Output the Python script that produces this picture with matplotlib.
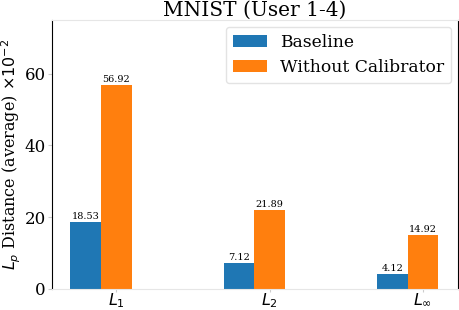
import numpy as np
import matplotlib
matplotlib.use("Agg")
import matplotlib.pyplot as plt

plt.rcParams['font.family'] = 'DejaVu Serif'
plt.rcParams['mathtext.fontset'] = 'dejavusans'

norms = [r'$L_1$', r'$L_2$', r'$L_\infty$']
baseline = [18.53, 7.12, 4.12]
without_cal = [56.92, 21.89, 14.92]

x = np.arange(len(norms))
w = 0.2

fig = plt.figure(figsize=(4.6, 3.1), dpi=100)
ax = fig.add_axes([0.113, 0.069, 0.883, 0.866])

b1 = ax.bar(x - w, baseline, w, color='#1f77b4', label='Baseline')
b2 = ax.bar(x, without_cal, w, color='#ff7f0e', label='Without Calibrator')

for bars, vals in ((b1, baseline), (b2, without_cal)):
    for r, v in zip(bars, vals):
        ax.text(r.get_x() + r.get_width() / 2, r.get_height() + 0.3, f"{v:.2f}",
                ha='center', va='bottom', fontsize=7)

ax.set_xticks(x)
ax.set_xticklabels(norms, fontsize=11.5)
ax.set_yticks([0, 20, 40, 60])
ax.tick_params(axis='y', labelsize=12, length=3, color='#cccccc', pad=1.5)
ax.tick_params(axis='x', length=2, color='#cccccc', pad=0)
ax.set_ylim(0, 75)
ax.set_xlim(-0.42, 2.23)

ax.set_ylabel(r'$L_p$ Distance (average) $\times 10^{-2}$', fontsize=11.5, labelpad=1)
ax.set_title('MNIST (User 1-4)', fontsize=14.5, pad=3)

for s in ('top', 'bottom'):
    ax.spines[s].set_color('#e6e6e6')
for s in ('left', 'right'):
    ax.spines[s].set_color('black')

leg = ax.legend(loc='upper right', fontsize=12.3, frameon=True, fancybox=True,
                edgecolor='#dddddd', handlelength=2.0, borderaxespad=0.4)

fig.savefig('out.png', dpi=100)
